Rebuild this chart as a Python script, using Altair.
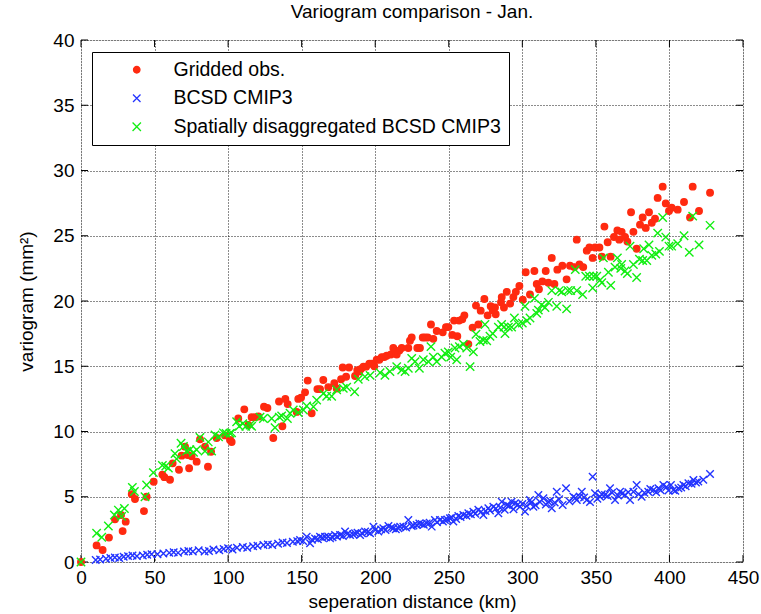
import altair as alt
import pandas as pd

# ---------------- data ----------------
obs_x = [0, 10.6, 14.7, 19.0, 23.1, 27.2, 28.3, 30.4, 34.5, 36.7, 42.8, 44.6, 49.4, 55.3, 56.7, 60.5,
         62.3, 66.6, 68.4, 70.7, 72.5, 73.5, 75.2, 78.6, 80.9, 84.3, 86.3, 88.4, 92.2, 97.9, 101.3,
         102.4, 106.9, 111.0, 113.8, 116.0, 118.3, 120.6, 124.4, 126.7, 130.7, 134.6, 136.9, 138.9,
         140.5, 146.6, 147.7, 149.6, 152.3, 154.1, 156.8, 160.7, 162.5, 164.7, 168.1, 172.2, 173.8,
         176.8, 177.9, 180.2, 182.2, 186.3, 187.8, 189.2, 190.4, 192.0, 193.8, 196.0, 197.6, 199.4,
         201.0, 202.8, 204.4, 206.2, 207.8, 210.7, 212.3, 213.5, 214.6, 216.4, 218.0, 222.5, 223.6,
         224.8, 228.6, 230.4, 232.3, 233.9, 235.7, 237.9, 239.5, 241.8, 245.9, 248.1, 249.7, 252.4,
         253.6, 255.8, 257.0, 259.2, 260.6, 263.3, 266.2, 268.5, 270.1, 271.7, 274.2, 276.4, 278.5,
         279.9, 281.4, 281.9, 285.5, 286.0, 287.5, 289.4, 291.7, 293.9, 295.6, 298.0, 300.3, 302.3,
         305.2, 308.2, 309.8, 311.3, 313.6, 315.9, 317.7, 320.0, 321.8, 323.8, 327.2, 330.1, 332.4,
         335.3, 337.0, 338.8, 341.4, 343.8, 345.6, 347.8, 349.4, 352.4, 354.0, 355.8, 358.0, 360.0,
         362.3, 364.6, 365.9, 367.5, 369.8, 371.4, 373.9, 375.5, 377.7, 380.0, 381.8, 383.9, 386.1,
         388.0, 390.2, 392.0, 395.4, 397.5, 399.7, 401.5, 405.6, 409.9, 414.0, 415.8, 420.1, 427.6]
obs_y = [0, 1.27, 0.92, 1.87, 3.27, 3.6, 2.37, 3.09, 5.2, 4.83, 3.9, 5.0, 6.15, 6.7, 6.5, 6.3,
         7.56, 7.07, 8.15, 8.84, 8.2, 7.18, 8.1, 7.69, 9.4, 8.84, 7.3, 8.45, 9.5, 9.7, 9.35,
         9.2, 11.0, 11.7, 10.5, 11.1, 11.1, 11.15, 11.9, 11.8, 9.5, 12.3, 10.4, 12.5,
         12.1, 11.5, 12.5, 12.6, 13.0, 13.9, 11.4, 13.25, 13.25, 13.95, 13.4, 13.7, 13.3,
         14.0, 14.9, 14.2, 14.9, 14.25, 14.7, 14.6, 14.8, 14.97, 14.97, 15.2, 15.2, 15.0,
         15.5, 15.5, 15.7, 15.7, 15.8, 15.9, 16.4, 16.2, 15.9, 16.2, 16.4, 16.4, 16.96,
         17.2, 16.4, 16.4, 17.2, 17.2, 17.2, 18.2, 17.1, 17.7, 17.6, 18.0, 18.0, 17.4,
         18.5, 17.3, 18.5, 18.6, 18.9, 16.7, 17.96, 19.65, 18.2, 19.26, 20.15, 18.9, 19.6,
         19.3, 19.5, 18.98, 19.9, 20.3, 19.5, 20.7, 19.8, 20.3, 20.7, 21.15, 20.1, 22.2,
         20.5, 22.3, 21.3, 20.9, 21.5, 22.3, 21.4, 23.3, 21.3, 22.4, 22.7, 21.66, 22.7,
         22.6, 24.7, 22.8, 22.6, 23.86, 24.1, 23.3, 24.1, 24.1, 23.4, 25.7, 24.5, 23.4,
         24.9, 25.4, 24.7, 25.3, 24.9, 24.55, 26.8, 25.3, 24.0, 25.85, 26.4, 25.6, 26.8,
         26.0, 26.3, 27.9, 28.76, 27.48, 26.9, 27.15, 27.0, 27.59, 26.4, 28.76, 26.9, 28.3]

bcsd_x = [10, 13, 17, 20, 23, 26, 29, 32, 35, 38, 42, 45, 48, 52, 56, 60, 63, 66, 70, 73, 76, 80, 84,
          87, 90, 94, 97, 100, 103, 106, 110, 113, 117, 120, 124, 127, 130, 134, 137, 140, 144, 147,
          148.9, 151, 153.4, 155.7, 157, 159.1, 161, 162.5, 164, 165.9, 168, 169.3, 171, 172.7, 174,
          176.1, 178, 179.5, 181, 182.9, 185, 186.3, 188, 189.7, 191, 193.1, 195, 196.5, 198.8, 200,
          202.1, 204, 205.5, 207, 209.0, 211, 212.3, 214, 215.7, 217, 219.1, 221, 222.5, 224.8, 226,
          228.2, 230, 231.6, 233, 235.0, 237, 238.4, 240.6, 242, 244.0, 246, 247.4, 249, 250.8, 252,
          253.1, 255, 256.5, 258, 259.9, 262, 263.3, 265, 266.7, 268, 270.1, 272, 273.5, 275, 276.9,
          278, 280.3, 282, 283.7, 285, 286.0, 288, 289.4, 291, 292.7, 294, 295.0, 297, 298.4, 300,
          301.8, 303, 305.2, 306, 307.5, 309, 310.9, 312, 314.3, 316, 317.7, 319, 320, 322, 323.4,
          325, 327.4, 329.7, 332, 334.7, 336, 337.0, 339, 340.4, 342, 343.8, 346, 347.8, 349.4, 351,
          352.8, 354, 356.2, 358, 359.6, 361, 363.0, 365, 366.4, 368, 369.8, 372, 373.2, 375.5, 377.7,
          379, 381.1, 383, 385.6, 387, 389.1, 391, 392.5, 394, 395.9, 398, 399.3, 401, 402.7, 404,
          406.1, 408, 409.5, 411, 412.9, 415, 416.3, 418, 419.6, 423, 427.6]
bcsd_y = [0.15, 0.2, 0.25, 0.3, 0.35, 0.3, 0.4, 0.45, 0.5, 0.45, 0.5, 0.55, 0.6, 0.6, 0.65, 0.7, 0.75,
          0.7, 0.8, 0.85, 0.8, 0.9, 0.8, 0.85, 0.95, 0.9, 1.0, 1.05, 0.95, 1.1, 1.15, 1.1, 1.2, 1.25,
          1.3, 1.35, 1.3, 1.4, 1.5, 1.45, 1.55, 1.6,
          1.68, 1.6, 1.94, 1.43, 1.7, 1.81, 1.75, 1.94, 1.85, 1.94, 1.95, 1.81, 1.9, 2.07, 1.95,
          2.07, 2.0, 2.33, 2.15, 2.07, 2.1, 2.2, 2.25, 2.07, 2.2, 2.33, 2.3, 2.2, 2.71, 2.45,
          2.33, 2.5, 2.58, 2.45, 2.76, 2.65, 2.58, 2.5, 2.58, 2.7, 2.71, 2.65, 3.22, 2.76, 2.8,
          2.84, 2.95, 2.91, 2.85, 2.96, 3.0, 2.71, 3.22, 3.05, 3.22, 3.1, 3.22, 3.25, 3.35, 3.4,
          3.1, 3.3, 3.53, 3.45, 3.6, 3.55, 3.73, 3.65, 3.86, 3.7, 4.0, 3.85, 3.6, 3.9, 4.12,
          3.95, 4.24, 4.1, 3.73, 4.15, 4.62, 4.0, 4.37, 4.3, 4.62, 4.05, 4.5, 4.4, 4.24, 4.45,
          3.86, 4.3, 4.75, 4.55, 4.24, 4.35, 5.13, 4.6, 4.88, 4.4, 4.62, 4.7, 4.12, 4.55, 5.39,
          4.8, 4.37, 5.65, 4.65, 5.0, 4.9, 4.75, 5.0, 5.39, 4.95, 4.75, 4.6, 6.54, 5.26, 4.85,
          5.0, 5.2, 5.13, 5.05, 5.65, 5.3, 4.75, 5.1, 5.39, 5.25, 5.13, 5.35, 4.75, 5.39, 5.9,
          5.2, 5.0, 5.3, 5.39, 5.6, 5.52, 5.35, 5.65, 5.5, 5.9, 5.75, 5.47, 5.9, 5.52, 5.45,
          5.65, 5.7, 5.9, 5.8, 6.03, 6.0, 6.28, 6.1, 6.16, 6.3, 6.74]

sd_x = [0, 10.6, 14.1, 18.6, 22.7, 25.4, 27.6, 29.5, 34.9, 36.3, 43.5, 44.6, 49.2, 55.3, 57.6, 59.4,
        63.9, 65.0, 68.0, 69.6, 71.8, 74.0, 76.5, 78.6, 80.9, 84.3, 86.5, 88.8, 91.1, 93.5, 96.8,
        98.6, 101.3, 102.4, 105.8, 107.6, 110.0, 112.0, 114.9, 116.0, 121.7, 124.0, 129.6, 131.9,
        134.8, 136.4, 140.3, 142.1, 144.3, 147.7, 151.2, 153.4, 158.0, 160.2, 164.7, 167.0, 170.4,
        173.8, 178.3, 180.6, 186.0, 188.5, 193.0, 196.5, 203.3, 206.6, 210.0, 214.6, 218.0, 220.3,
        222.5, 224.8, 227.1, 230.0, 232.7, 236.1, 237.9, 239.5, 241.8, 245.2, 247.4, 249.7, 251.3,
        254.2, 255.4, 257.2, 259.9, 262.2, 264.5, 266.7, 268.5, 271.2, 273.5, 274.6, 275.8, 278.0,
        279.9, 283.7, 285.9, 287.5, 288.2, 290.5, 292.7, 294.6, 297.3, 300.0, 301.8, 303.0, 305.2,
        308.2, 309.8, 310.9, 313.1, 315.4, 317.7, 320.0, 323.4, 325.1, 326.8, 330.1, 331.0, 332.9,
        336.0, 337.0, 341.0, 343.1, 345.6, 347.8, 348.5, 350.6, 352.8, 354.0, 355.1, 358.5, 360.1,
        363.0, 364.6, 366.9, 367.5, 369.8, 371.4, 373.2, 375.5, 377.7, 379.6, 381.8, 382.5, 384.6,
        386.1, 388.0, 390.7, 392.0, 393.2, 395.4, 397.5, 399.7, 401.5, 405.6, 409.9, 413.5, 415.8,
        420.1, 427.6]
sd_y = [0, 2.2, 1.9, 2.76, 3.6, 3.98, 3.5, 4.1, 5.72, 5.4, 5.0, 5.9, 6.85, 7.4, 7.35, 7.2,
        8.3, 7.9, 9.1, 8.85, 8.5, 8.6, 8.4, 8.6, 9.55, 8.5, 9.2, 8.5, 9.73, 9.6, 9.9,
        9.86, 9.86, 9.9, 10.75, 10.4, 10.6, 10.4, 10.5, 10.4, 11.1, 11.0, 11.0, 10.3,
        11.1, 11.2, 11.0, 11.4, 11.65, 11.45, 11.65, 11.95, 11.9, 12.4, 12.9, 12.7, 12.7,
        13.2, 13.3, 13.4, 13.05, 14.0, 14.2, 14.3, 14.5, 14.3, 14.6, 14.97, 14.7, 14.6,
        14.85, 15.6, 15.35, 14.85, 15.5, 15.35, 16.5, 15.7, 15.35, 15.7, 16.0, 16.1, 15.7,
        16.4, 15.5, 16.5, 16.7, 16.4, 14.97, 16.1, 17.45, 16.9, 17.0, 18.2, 16.95, 17.3,
        17.5, 18.0, 18.2, 18.0, 17.5, 18.0, 18.0, 18.7, 18.2, 18.3, 19.6, 18.5, 18.7,
        20.2, 19.05, 19.3, 19.7, 19.5, 19.9, 20.8, 19.6, 20.8, 20.7, 19.4, 20.8, 20.8,
        22.4, 20.8, 20.5, 21.9, 21.9, 21.0, 21.9, 21.9, 21.6, 21.4, 23.3, 22.2, 21.2,
        22.6, 23.3, 22.5, 22.8, 22.3, 22.1, 24.2, 22.8, 21.8, 23.2, 23.1, 24.0, 23.1,
        24.3, 23.5, 23.6, 25.2, 23.8, 26.4, 24.9, 24.2, 24.2, 24.4, 25.0, 23.73, 26.5,
        24.3, 25.8]

series_names = ["Gridded obs.", "BCSD CMIP3", "Spatially disaggregated BCSD CMIP3"]
series_colors = ["#ff2a10", "#2233ff", "#11ee11"]
series_fill = ["#ff2a10", "#ffffff00", "#ffffff00"]
x_ticks = [0, 50, 100, 150, 200, 250, 300, 350, 400, 450]
y_ticks = [0, 5, 10, 15, 20, 25, 30, 35, 40]

# ---------------- build table ----------------
rows = []
for name, xs_, ys_ in zip(series_names, [obs_x, bcsd_x, sd_x], [obs_y, bcsd_y, sd_y]):
    for xv, yv in zip(xs_, ys_):
        rows.append({"series": name, "dist": xv, "vario": yv})
df = pd.DataFrame(rows)

W, H = 662, 522
FONT = "Liberation Sans Narrow, Arial Narrow, Liberation Sans, Arial"
XSHAPE = "M-1,-1L1,1M-1,1L1,-1"

xs = alt.Scale(domain=[0, 450], nice=False, zero=False)
ys = alt.Scale(domain=[0, 40], nice=False, zero=False)

leg = alt.Legend(orient="none", legendX=11, legendY=12, fillColor="white", strokeColor="black",
                 padding=8, labelFont=FONT, labelFontSize=19.5, labelColor="#000",
                 symbolOffset=27, labelOffset=27, rowPadding=7.5, symbolSize=40,
                 symbolStrokeWidth=1.3, labelLimit=500, title=None)

points = alt.Chart(df).mark_point(filled=False, strokeWidth=1.4, opacity=1).encode(
    x=alt.X("dist:Q", scale=xs,
            axis=alt.Axis(values=x_ticks, title="seperation distance (km)", grid=True,
                          gridDash=[1, 2], gridColor="#000000", gridOpacity=0.9,
                          ticks=False, domain=False, labelPadding=6, titlePadding=5,
                          labelFontSize=19, titleFontSize=19, labelFont=FONT, titleFont=FONT,
                          labelColor="#000", titleColor="#000", titleFontWeight="normal",
                          labelFlush=False)),
    y=alt.Y("vario:Q", scale=ys,
            axis=alt.Axis(values=y_ticks, title="variogram (mm²)", grid=True,
                          gridDash=[1, 2], gridColor="#000000", gridOpacity=0.9,
                          ticks=False, domain=False, labelPadding=7, titlePadding=16,
                          labelFontSize=19, titleFontSize=19, labelFont=FONT, titleFont=FONT,
                          labelColor="#000", titleColor="#000", titleFontWeight="normal",
                          labelFlush=False)),
    color=alt.Color("series:N", scale=alt.Scale(domain=series_names, range=series_colors),
                    sort=series_names, legend=leg),
    fill=alt.Fill("series:N", scale=alt.Scale(domain=series_names, range=series_fill),
                  sort=series_names, legend=leg),
    shape=alt.Shape("series:N", scale=alt.Scale(domain=series_names,
                                                range=["circle", XSHAPE, XSHAPE]),
                    sort=series_names, legend=leg),
    size=alt.Size("series:N", scale=alt.Scale(domain=series_names, range=[42, 70, 70]),
                  legend=None),
)

xt = pd.DataFrame({"t": x_ticks})
yt = pd.DataFrame({"t": y_ticks})
tick_x_bottom = alt.Chart(xt).mark_rule(color="black", strokeWidth=1).encode(
    x=alt.X("t:Q", scale=xs), y=alt.value(H), y2=alt.value(H - 7))
tick_x_top = alt.Chart(xt).mark_rule(color="black", strokeWidth=1).encode(
    x=alt.X("t:Q", scale=xs), y=alt.value(0), y2=alt.value(7))
tick_y_left = alt.Chart(yt).mark_rule(color="black", strokeWidth=1).encode(
    y=alt.Y("t:Q", scale=ys), x=alt.value(0), x2=alt.value(7))
tick_y_right = alt.Chart(yt).mark_rule(color="black", strokeWidth=1).encode(
    y=alt.Y("t:Q", scale=ys), x=alt.value(W), x2=alt.value(W - 7))

chart = alt.layer(tick_x_bottom, tick_x_top, tick_y_left, tick_y_right, points).properties(
    width=W, height=H,
    title=alt.TitleParams("Variogram comparison - Jan.", font=FONT, fontSize=19,
                          fontWeight="normal", color="#000", anchor="middle", offset=9),
    autosize=alt.AutoSizeParams(type="none"),
    padding={"left": 81, "top": 40, "right": 18, "bottom": 52},
).configure_view(stroke="black", strokeWidth=1.5).configure(background="white")

chart.save("out.html", embed_options={"renderer": "svg", "actions": False})
